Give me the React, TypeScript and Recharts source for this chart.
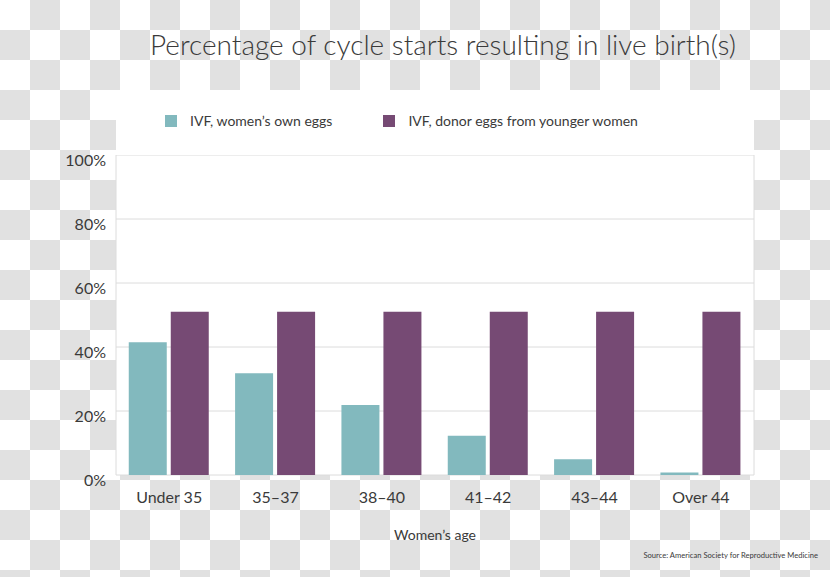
import { BarChart, Bar, XAxis, YAxis, CartesianGrid, Legend, Label } from 'recharts'

const categories = ['Under 35', '35–37', '38–40', '41–42', '43–44', 'Over 44']
const ownEggs = [41.5, 31.8, 21.9, 12.3, 4.9, 0.8]
const donorEggs = [51, 51, 51, 51, 51, 51]
const yTicks = [0, 20, 40, 60, 80, 100]
const seriesOrder = ['own', 'donor']

const data = categories.map((age, i) => ({ age, own: ownEggs[i], donor: donorEggs[i] }))

const FONT = 'Lato, "Noto Sans", sans-serif'
const TEXT = '#3a3a3a'

function LegendRow(props: any) {
  const items = [...(props.payload ?? [])].sort(
    (a: any, b: any) => seriesOrder.indexOf(a.dataKey) - seriesOrder.indexOf(b.dataKey),
  )
  return (
    <div style={{ display: 'flex', alignItems: 'center', paddingLeft: 49, paddingTop: 22, fontFamily: FONT, fontSize: 14, color: TEXT }}>
      {items.map((it: any) => (
        <div key={it.value} style={{ display: 'flex', alignItems: 'center', marginRight: 51 }}>
          <span style={{ display: 'inline-block', width: 12, height: 12, background: it.color, marginRight: 13 }} />
          <span>{it.value}</span>
        </div>
      ))}
    </div>
  )
}

export default function App() {
  return (
    <div
      style={{
        position: 'relative',
        width: 830,
        height: 577,
        background: 'repeating-conic-gradient(#e1e1e1 0% 25%, #ffffff 0% 50%) 0 0 / 60px 60px',
        fontFamily: FONT,
      }}
    >
      <style>{'body{margin:0}'}</style>
      <div style={{ position: 'absolute', top: 27, left: 0, width: 886, textAlign: 'center', fontSize: 28, fontWeight: 300, color: TEXT }}>
        Percentage of cycle starts resulting in live birth(s)
      </div>
      <BarChart
        width={830}
        height={577}
        data={data}
        margin={{ top: 90, right: 76, bottom: 0, left: 0 }}
        barCategoryGap="12%"
        barGap={4}
      >
        <CartesianGrid
          stroke="#dcdcdc"
          fill="#ffffff"
          verticalCoordinatesGenerator={({ offset }: any) => [offset.left, offset.left + offset.width]}
        />
        <XAxis
          dataKey="age"
          height={102}
          axisLine={false}
          tickLine={false}
          tickSize={0}
          tickMargin={17}
          tick={{ fill: TEXT, fontSize: 16, fontFamily: FONT }}
        >
          <Label value="Women’s age" position="insideBottom" offset={37} fill={TEXT} fontSize={14} fontFamily={FONT} />
        </XAxis>
        <YAxis
          width={116}
          domain={[0, 100]}
          ticks={yTicks}
          tickFormatter={(v: number) => `${v}%`}
          axisLine={false}
          tickLine={false}
          tickSize={0}
          tickMargin={10}
          tick={{ fill: TEXT, fontSize: 16, fontFamily: FONT, dy: 5 }}
        />
        <Legend
          verticalAlign="top"
          itemSorter={null}
          content={LegendRow}
          wrapperStyle={{ top: 90, left: 116, width: 638, height: 65, background: '#ffffff' }}
        />
        <Bar dataKey="own" name="IVF, women’s own eggs" fill="#82b9be" isAnimationActive={false} />
        <Bar dataKey="donor" name="IVF, donor eggs from younger women" fill="#764a74" isAnimationActive={false} />
      </BarChart>
      <div style={{ position: 'absolute', top: 550, right: 12, fontSize: 7.6, color: TEXT }}>
        Source: American Society for Reproductive Medicine
      </div>
    </div>
  )
}
